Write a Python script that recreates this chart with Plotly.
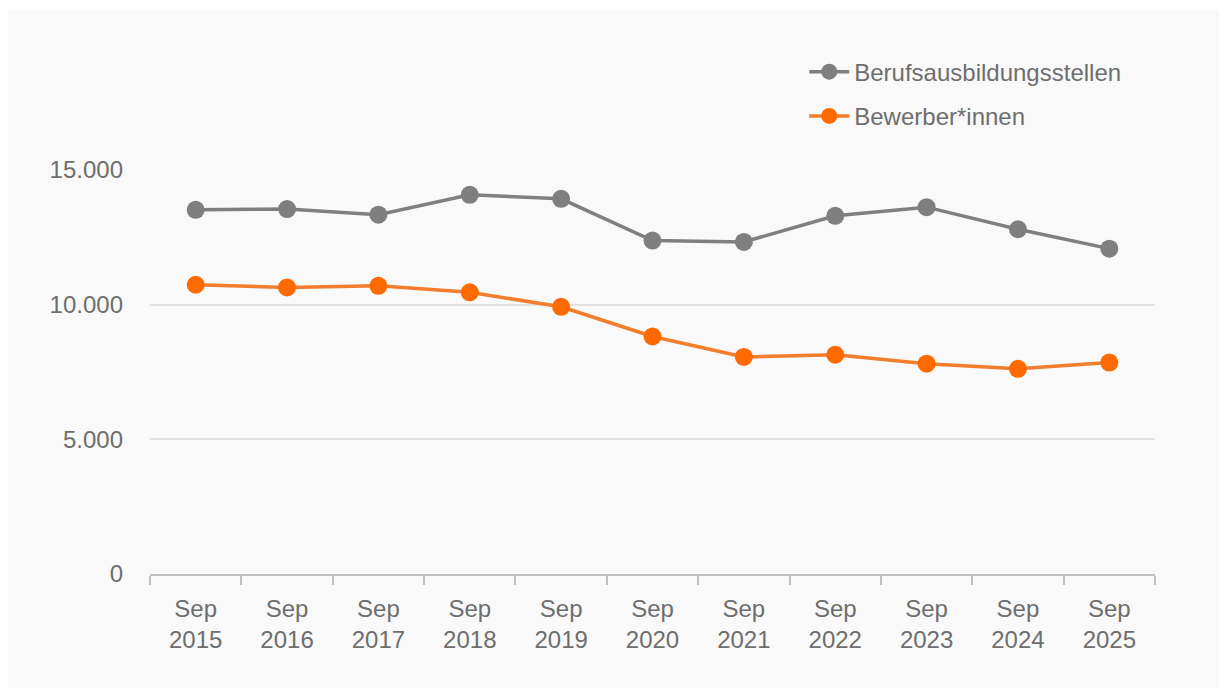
import plotly.graph_objects as go

categories = ["Sep<br>2015", "Sep<br>2016", "Sep<br>2017", "Sep<br>2018", "Sep<br>2019", "Sep<br>2020",
              "Sep<br>2021", "Sep<br>2022", "Sep<br>2023", "Sep<br>2024", "Sep<br>2025"]
stellen = [13520, 13550, 13340, 14080, 13930, 12380, 12330, 13300, 13620, 12800, 12080]
bewerber = [10740, 10640, 10700, 10460, 9920, 8820, 8060, 8140, 7810, 7620, 7850]
y_ticks = [0, 5000, 10000, 15000]

FONT = "Liberation Sans, Arial, sans-serif"
TXT = "#6e6e6e"

fig = go.Figure()
fig.add_trace(go.Scatter(
    x=categories, y=stellen, name="Berufsausbildungsstellen", mode="lines+markers",
    legendgroup="a",
    line=dict(color="#7f7f7f", width=3.5),
    marker=dict(color="#7f7f7f", size=18),
))
fig.add_trace(go.Scatter(
    x=categories, y=bewerber, name="Bewerber*innen", mode="lines+markers",
    legendgroup="b",
    line=dict(color="#f27d2c", width=3.5),
    marker=dict(color="#ff6a00", size=18),
))

fig.add_shape(type="rect", xref="paper", yref="paper",
              x0=-0.143, x1=1.065, y0=-0.282, y1=1.396,
              fillcolor="#f9f9f9", line=dict(width=0), layer="below")

fig.update_layout(
    width=1219, height=687,
    margin=dict(l=142, r=72, t=162, b=121),
    paper_bgcolor="white",
    plot_bgcolor="#f9f9f9",
    separators=",.",
    font=dict(family=FONT, size=24, color=TXT),
    showlegend=True,
    legend=dict(x=0.651, y=1.298, xanchor="left", yanchor="top",
                bgcolor="rgba(0,0,0,0)", font=dict(size=24, color=TXT),
                itemwidth=40, traceorder="grouped", tracegroupgap=10),
    xaxis=dict(
        type="category", range=[-0.5, 10.5], tickson="boundaries",
        showline=True, linecolor="#c0c0c0", linewidth=2,
        ticks="outside", ticklen=9, tickwidth=2, tickcolor="#c0c0c0",
        showgrid=False, tickfont=dict(size=24, color=TXT), fixedrange=True,
        ticklabelstandoff=12,
    ),
    yaxis=dict(
        range=[0, 15000], tickvals=y_ticks, tickformat=",d",
        showgrid=True, gridcolor="#e2e2e2", gridwidth=1.5,
        zeroline=False, showline=False, ticks="",
        ticklabelstandoff=26, tickfont=dict(size=24, color=TXT),
    ),
)

fig.write_html("out.html")
